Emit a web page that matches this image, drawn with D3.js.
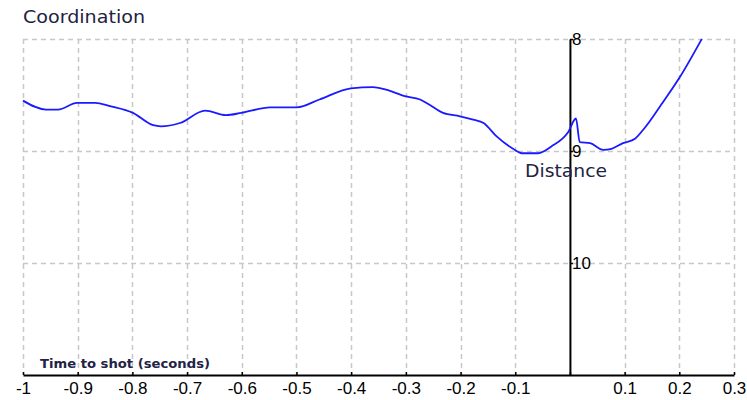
<!DOCTYPE html>
<html>
<head>
<meta charset="utf-8">
<script src="https://cdn.jsdelivr.net/npm/d3@7"></script>
<style>
  html, body { margin: 0; padding: 0; background: #fff; }
  svg { display: block; }
</style>
</head>
<body>
<svg id="chart" width="747" height="400"></svg>
<script>
// ---- data ----
const timeToShot = [-1.0, -0.958, -0.936, -0.901, -0.868, -0.841, -0.799, -0.762, -0.748, -0.713,
  -0.667, -0.629, -0.601, -0.548, -0.499, -0.458, -0.40, -0.36, -0.338, -0.302,
  -0.274, -0.256, -0.232, -0.201, -0.177, -0.158, -0.134, -0.104, -0.088, -0.058,
  -0.034, -0.003, 0.011, 0.018, 0.037, 0.061, 0.076, 0.097, 0.119, 0.134,
  0.165, 0.201, 0.241];
const distance = [8.55, 8.63, 8.63, 8.57, 8.57, 8.60, 8.66, 8.77, 8.78, 8.75,
  8.64, 8.68, 8.66, 8.61, 8.61, 8.54, 8.44, 8.43, 8.45, 8.51,
  8.54, 8.59, 8.66, 8.69, 8.72, 8.75, 8.87, 8.98, 9.02, 9.02,
  8.96, 8.83, 8.71, 8.92, 8.93, 8.99, 8.98, 8.93, 8.89, 8.81,
  8.60, 8.34, 8.00];
const xTicks = [-1, -0.9, -0.8, -0.7, -0.6, -0.5, -0.4, -0.3, -0.2, -0.1, 0, 0.1, 0.2, 0.3];
const xTickLabels = ["-1", "-0.9", "-0.8", "-0.7", "-0.6", "-0.5", "-0.4", "-0.3", "-0.2", "-0.1", "", "0.1", "0.2", "0.3"];
const yTicks = [8, 9, 10];
const yTickLabels = ["8", "9", "10"];
const chartTitle = "Coordination";
const xAxisTitle = "Time to shot (seconds)";
const yAxisTitle = "Distance";

// ---- drawing ----
const svg = d3.select("#chart");
const x = d3.scaleLinear().domain([-1, 0.3]).range([23, 734]);
const y = d3.scaleLinear().domain([8, 11]).range([39, 375]);

const gridColor = "#c8c8c8";
const dash = "5,4";

// vertical gridlines
svg.append("g").selectAll("line")
  .data(xTicks.filter(d => d !== 0))
  .join("line")
  .attr("x1", d => Math.round(x(d)) + 0.5).attr("x2", d => Math.round(x(d)) + 0.5)
  .attr("y1", y(8)).attr("y2", y(11))
  .attr("stroke", gridColor).attr("stroke-width", 1.5)
  .attr("stroke-dasharray", dash);

// horizontal gridlines
svg.append("g").selectAll("line")
  .data(yTicks)
  .join("line")
  .attr("x1", x(-1)).attr("x2", x(0.3))
  .attr("y1", d => Math.round(y(d)) + 0.5).attr("y2", d => Math.round(y(d)) + 0.5)
  .attr("stroke", gridColor).attr("stroke-width", 1.5)
  .attr("stroke-dasharray", dash);

// x axis
const xAxis = d3.axisBottom(x)
  .tickValues(xTicks)
  .tickFormat((d, i) => xTickLabels[i])
  .tickSizeInner(-3).tickSizeOuter(0).tickPadding(7);
const gx = svg.append("g").attr("transform", `translate(0,${y(11)})`).call(xAxis);
gx.select(".domain").attr("stroke", "#000").attr("stroke-width", 2);
gx.selectAll(".tick line").attr("stroke", "#000").attr("stroke-width", 1.5);
gx.selectAll(".tick text")
  .attr("font-family", "'Liberation Sans', Arial, sans-serif")
  .attr("font-size", 17).attr("fill", "#000");

// y axis (at x = 0)
const yAxis = d3.axisRight(y)
  .tickValues(yTicks)
  .tickFormat((d, i) => yTickLabels[i])
  .tickSizeInner(3).tickSizeOuter(0).tickPadding(0);
const gy = svg.append("g").attr("transform", `translate(${x(0)},0)`).call(yAxis);
gy.select(".domain").attr("stroke", "#000").attr("stroke-width", 2);
gy.selectAll(".tick line").attr("stroke", "#000").attr("stroke-width", 1.5);
gy.selectAll(".tick text")
  .attr("font-family", "'Liberation Sans', Arial, sans-serif")
  .attr("font-size", 17).attr("fill", "#000").attr("x", 2);

// data line
const pts = timeToShot.map((t, i) => [t, distance[i]]);
svg.append("path")
  .datum(pts)
  .attr("fill", "none")
  .attr("stroke", "#1a1aff")
  .attr("stroke-width", 1.8)
  .attr("d", d3.line().x(d => x(d[0])).y(d => y(d[1])).curve(d3.curveMonotoneX));

// titles
svg.append("text").text(chartTitle)
  .attr("x", 23).attr("y", 23)
  .attr("font-family", "'DejaVu Sans', Verdana, sans-serif")
  .attr("font-size", 18).attr("fill", "#222244")
  .attr("textLength", 122).attr("lengthAdjust", "spacingAndGlyphs");

svg.append("text").text(yAxisTitle)
  .attr("x", 525).attr("y", 177)
  .attr("font-family", "'DejaVu Sans', Verdana, sans-serif")
  .attr("font-size", 18).attr("fill", "#222244")
  .attr("textLength", 82).attr("lengthAdjust", "spacingAndGlyphs");

svg.append("text").text(xAxisTitle)
  .attr("x", 40).attr("y", 368)
  .attr("font-family", "'DejaVu Sans', Verdana, sans-serif")
  .attr("font-size", 13).attr("font-weight", 600).attr("fill", "#222244")
  .attr("textLength", 170).attr("lengthAdjust", "spacingAndGlyphs");
</script>
</body>
</html>
